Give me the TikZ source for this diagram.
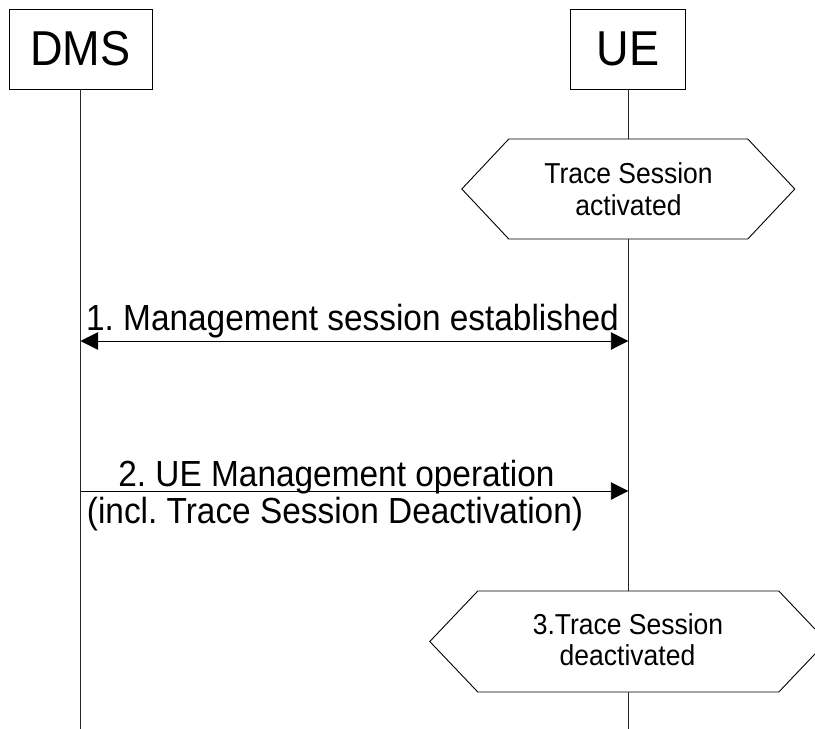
\documentclass[tikz,border=0pt]{standalone}
\usepackage{fontspec}
\setmainfont[FakeStretch=0.92]{Liberation Sans}
\usetikzlibrary{arrows.meta}
\frenchspacing
\begin{document}
\begin{tikzpicture}[x=1pt,y=-1pt,line join=miter,
  box/.style={draw,line width=0.9pt,inner sep=0pt,font=\fontsize{49}{58}\selectfont},
  msg/.style={font=\fontsize{36.3}{43}\selectfont,anchor=base,inner sep=0pt},
  hextext/.style={font=\fontsize{28.8}{34}\selectfont,anchor=base,inner sep=0pt},
  life/.style={line width=0.9pt,draw=black!85},
  hexbox/.style={draw,fill=white,line width=0.9pt},
  arr/.style={line width=0.9pt,-{Triangle[length=17.5pt,width=17.5pt]}},
  darr/.style={line width=0.9pt,{Triangle[length=17.5pt,width=17.5pt]}-{Triangle[length=17.5pt,width=17.5pt]}},
]
\useasboundingbox (0,0) rectangle (815,729);
% participants
\node[box,minimum width=143pt,minimum height=80pt] (dms) at (80.5,49) {DMS};
\node[box,minimum width=115pt,minimum height=80pt] (ue) at (628.3,49) {UE};
\coordinate (dmsend) at (dms.south |- 0,729);
\coordinate (ueend) at (ue.south |- 0,729);
\draw[life] (dms.south) -- (dmsend);
\draw[life] (ue.south) -- (ueend);
% hexagon 1
\coordinate (h1) at (ue.south |- 0,189);
\draw[hexbox] ([shift={(-166.5,0)}]h1) -- ([shift={(-119.5,-50)}]h1) -- ([shift={(119.5,-50)}]h1)
  -- ([shift={(166.5,0)}]h1) -- ([shift={(119.5,50)}]h1) -- ([shift={(-119.5,50)}]h1) -- cycle;
\node[hextext] (h1a) at (628.5,183) {Trace Session};
\node[hextext] (h1b) at (628.5,215) {activated};
% message 1
\coordinate (d1) at (dms.south |- 0,341);
\coordinate (u1) at (ue.south |- 0,341);
\draw[darr] (d1) -- (u1);
\node[msg] (m1) at (352.5,330) {1. Management session established};
% message 2
\coordinate (d2) at (dms.south |- 0,491);
\coordinate (u2) at (ue.south |- 0,491);
\draw[arr] (d2) -- (u2);
\node[msg] (m2a) at (336.5,486) {2. UE Management operation};
\node[msg] (m2b) at (335,523) {(incl. Trace Session Deactivation)};
% hexagon 2
\coordinate (h2) at (ue.south |- 0,641.5);
\draw[hexbox] ([shift={(-198.5,0)}]h2) -- ([shift={(-150.5,-50.5)}]h2) -- ([shift={(150.5,-50.5)}]h2)
  -- ([shift={(198.5,0)}]h2) -- ([shift={(150.5,50.5)}]h2) -- ([shift={(-150.5,50.5)}]h2) -- cycle;
\node[hextext] (h2a) at (628,634) {3.Trace Session};
\node[hextext] (h2b) at (627.5,665) {deactivated};
\end{tikzpicture}
\end{document}
